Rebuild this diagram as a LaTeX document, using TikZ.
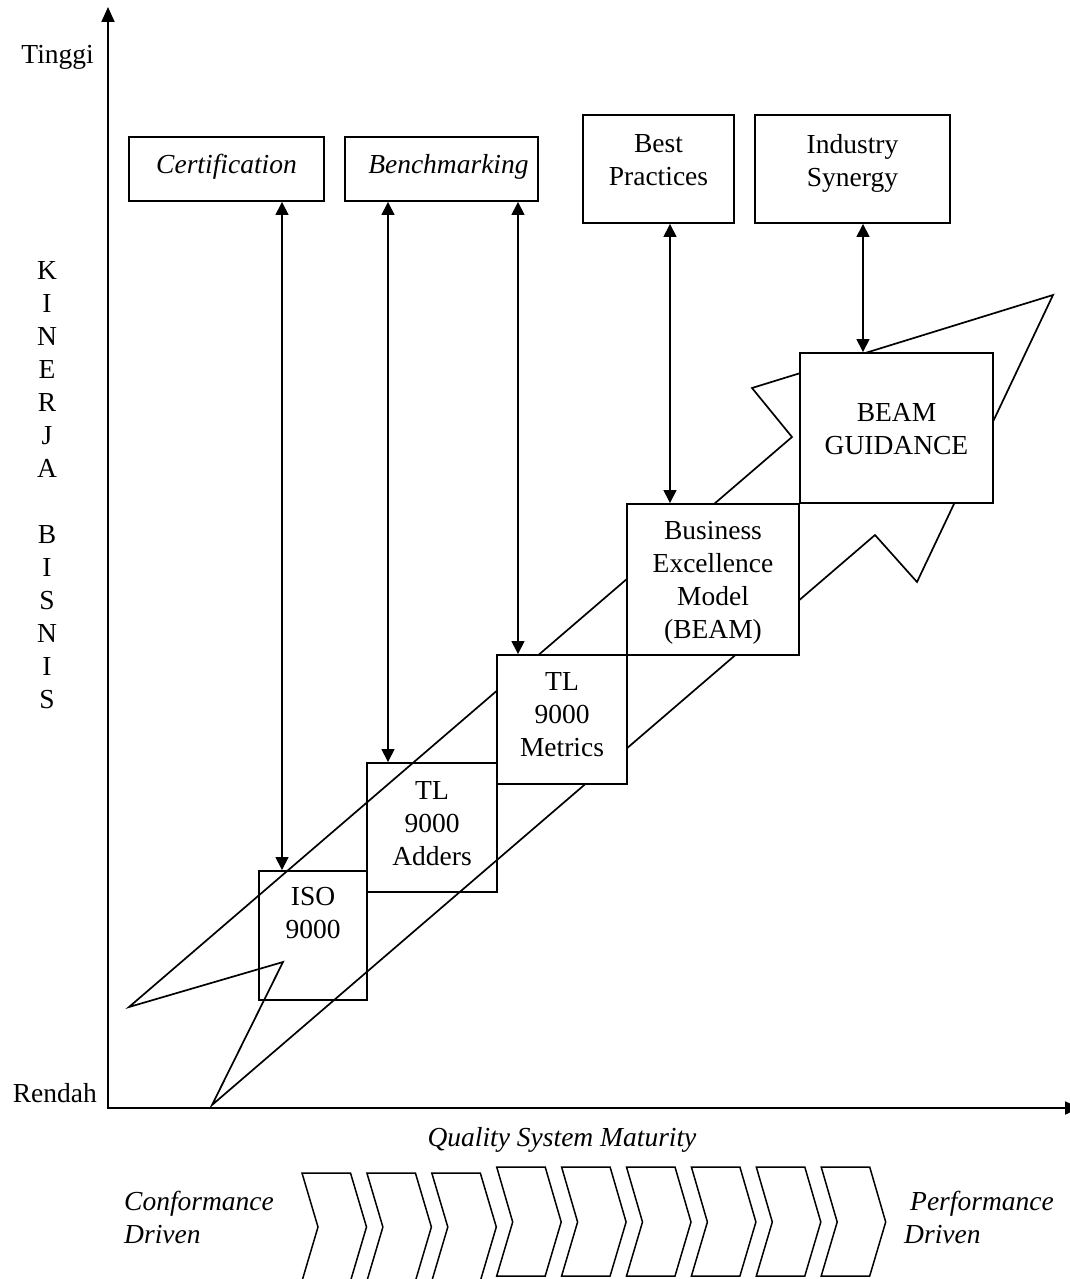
\documentclass[tikz,border=0pt]{standalone}
\usepackage{fontspec}
\setmainfont{Liberation Serif}
\usetikzlibrary{arrows.meta,positioning}
\begin{document}
\begin{tikzpicture}[x=1pt,y=-1pt,
  txt/.style={font=\fontsize{27.5}{33}\selectfont, inner sep=0pt, align=center},
  box/.style={draw, line width=1.9pt, inner sep=0pt},
  solidbox/.style={box, fill=white},
  link/.style={line width=1.5pt, {Triangle[length=13pt,width=13pt]}-{Triangle[length=13pt,width=13pt]}},
  axis/.style={line width=1.8pt, {Triangle[length=15pt,width=13pt]}-{Triangle[length=15pt,width=13pt]}},
  bolt/.style={line width=1.7pt, line join=miter},
  chev/.style={line width=1.5pt, line join=miter}]
\useasboundingbox (0,0) rectangle (1070,1279);

% axes
\coordinate (ytip) at (108,7);
\coordinate (origin) at (108,1108);
\coordinate (xtip) at (1080,1108);
\draw[axis] (ytip) -- (origin) -- (xtip);

% open boxes (the bolt shows through them)
\node[box, minimum width=108pt, minimum height=129pt] (iso) at (313,935.5) {};
\node[box, minimum width=130pt, minimum height=129pt] (adders) at (432,827.5) {};

% zig-zag bolt
\coordinate (bA) at (1053,295);
\coordinate (bB) at (917,582);
\coordinate (bC) at (875,535);
\coordinate (bE) at (212,1105);
\coordinate (bF) at (283,962);
\coordinate (bG) at (129,1007);
\coordinate (bH) at (792,437);
\coordinate (bI) at (752,388);
\draw[bolt] (bA) -- (bB) -- (bC) -- (bE) -- (bF) -- (bG) -- (bH) -- (bI) -- cycle;

% filled boxes (cover the bolt)
\node[solidbox, minimum width=130pt, minimum height=129pt] (metrics) at (562,719.5) {};
\node[solidbox, minimum width=172pt, minimum height=151pt] (bem) at (713,579.5) {};
\node[solidbox, minimum width=193pt, minimum height=150pt] (guid) at (896.5,428) {};

% top boxes
\node[box, minimum width=195pt, minimum height=64pt] (cert) at (226.5,169) {};
\node[box, minimum width=193pt, minimum height=64pt] (bench) at (441.5,169) {};
\node[box, minimum width=151pt, minimum height=108pt] (best) at (658.5,169) {};
\node[box, minimum width=195pt, minimum height=108pt] (ind) at (852.5,169) {};

% two-way links
\draw[link] ([xshift=55.5pt]cert.south) -- ([xshift=-31pt]iso.north);
\draw[link] ([xshift=-53.5pt]bench.south) -- ([xshift=-44pt]adders.north);
\draw[link] ([xshift=76.5pt]bench.south) -- ([xshift=-44pt]metrics.north);
\draw[link] ([xshift=11.5pt]best.south) -- ([xshift=-43pt]bem.north);
\draw[link] ([xshift=10.5pt]ind.south) -- ([xshift=-33.5pt]guid.north);

% box labels
\node[txt, anchor=north, below=17pt of iso.north] (isoT) {ISO\\9000};
\node[txt, anchor=north, below=19pt of adders.north] (addersT) {TL\\9000\\Adders};
\node[txt, anchor=north, below=18pt of metrics.north] (metricsT) {TL\\9000\\Metrics};
\node[txt, anchor=north, below=18pt of bem.north] (bemT) {Business\\Excellence\\Model\\(BEAM)};
\node[txt] (guidT) at ([yshift=-1pt]guid.center) {BEAM\\GUIDANCE};
\node[txt, anchor=base] (certT) at ([yshift=-4pt]cert.center) {\itshape Certification};
\node[txt, anchor=base west] (benchT) at ([xshift=24pt,yshift=-4pt]bench.west) {\itshape Benchmarking};
\node[txt, anchor=north, below=20pt of best.north] (bestT) {Best\\Practices};
\node[txt, anchor=north, below=20pt of ind.north] (indT) {Industry\\Synergy};

% axis labels
\node[txt, anchor=base east] (high) at (94,64) {Tinggi};
\node[txt, anchor=base east] (low) at (97,1102) {Rendah};
\node[txt, anchor=north] (yname) at (47,261) {K\\I\\N\\E\\R\\J\\A\\~\\B\\I\\S\\N\\I\\S};
\node[txt, anchor=base] (xname) at (562,1146) {\itshape Quality System Maturity};

% maturity scale
\foreach \i in {0,...,8} {
  \pgfmathsetmacro\xa{302+64.9*\i}
  \ifnum\i<3 \def\yt{1173}\def\ym{1227}\def\yb{1281}\else \def\yt{1167}\def\ym{1222}\def\yb{1276}\fi
  \draw[chev] (\xa,\yt) -- (\xa+48.5,\yt) -- (\xa+64.5,\ym) -- (\xa+48.5,\yb)
     -- (\xa,\yb) -- (\xa+16,\ym) -- cycle;
}
\node[txt, align=left, anchor=north west] (conf) at (124,1191) {\itshape Conformance\\\itshape Driven};
\node[txt, align=left, anchor=north west] (perf) at (904,1191) {\itshape\hspace*{6pt}Performance\\\itshape Driven};
\end{tikzpicture}
\end{document}
